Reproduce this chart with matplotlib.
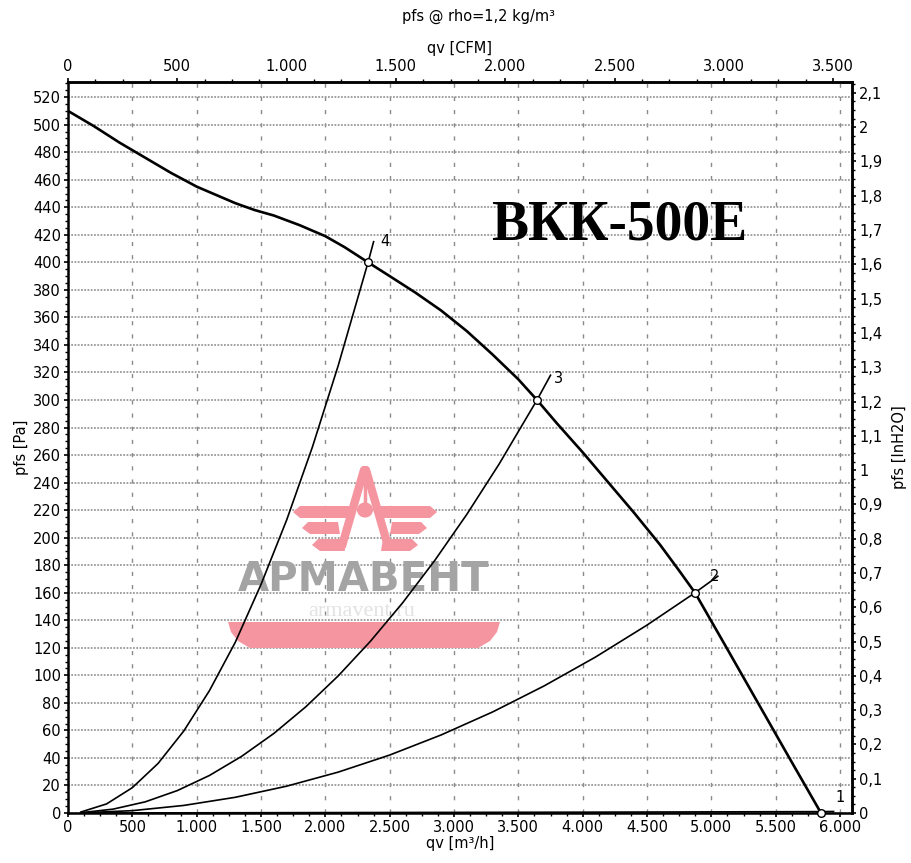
import numpy as np
import matplotlib
matplotlib.use("Agg")
import matplotlib.pyplot as plt
from matplotlib.ticker import MultipleLocator, FuncFormatter
from matplotlib.patches import Polygon, Circle

plt.rcParams['font.family'] = ['DejaVu Sans']

# ---------------- data ----------------
fan_q = [0, 200, 400, 600, 800, 1000, 1150, 1300, 1450, 1600, 1800, 2000, 2150, 2332,
         2500, 2700, 2900, 3100, 3300, 3500, 3645, 3800, 4000, 4200, 4400, 4600, 4750,
         4873, 5100, 5350, 5600, 5852]
fan_p = [510, 499, 487, 476, 465, 455, 449, 443, 438, 434, 427, 419, 411, 400,
         390, 378, 365, 350, 333, 315, 300, 283, 262, 240, 218, 195, 176,
         160, 123, 82, 41, 0]

sys4_q = [100, 300, 500, 700, 900, 1100, 1300, 1500, 1700, 1900, 2100, 2332, 2375]
sys4_p = [0.7, 6.6, 18.4, 36, 59.6, 89, 124, 166, 213, 266, 325, 400, 415]
sys3_q = [100, 350, 600, 850, 1100, 1350, 1600, 1850, 2100, 2350, 2600, 2850, 3100,
          3350, 3645, 3750]
sys3_p = [0.2, 2.8, 8.1, 16.3, 27.3, 41.2, 57.8, 77.3, 99.6, 124.7, 152.6, 183.4, 217,
          253.4, 300, 318]
sys2_q = [100, 500, 900, 1300, 1700, 2100, 2500, 2900, 3300, 3700, 4100, 4500, 4873, 5050]
sys2_p = [0.1, 1.7, 5.5, 11.4, 19.5, 29.7, 42.1, 56.7, 73.4, 92.3, 113.3, 136.5, 160, 172]
sys1_q = [100, 2000, 4000, 5852, 5950]
sys1_p = [0, 0.3, 0.6, 1.0, 1.1]

op_q = [5852, 4873, 3645, 2332]
op_p = [0, 160, 300, 400]
op_labels = ["1", "2", "3", "4"]

x_ticks = list(range(0, 6001, 500))
y_ticks = list(range(0, 521, 20))
cfm_ticks = list(range(0, 3501, 500))
inh2o_ticks = [round(0.1 * i, 1) for i in range(0, 22)]

M3H_PER_CFM = 1.699
PA_PER_INH2O = 249.09

# ---------------- figure ----------------
W, H = 912, 863
fig = plt.figure(figsize=(W / 100, H / 100), dpi=100)
L, R, T, B = 68, 852, 82, 813
ax = fig.add_axes([L / W, 1 - B / H, (R - L) / W, (B - T) / H])
ax.set_xlim(0, 6093)
ax.set_ylim(0, 531)

def thou(v, pos=None):
    return f"{int(round(v)):,}".replace(",", ".")

def comma(v, pos=None):
    v = round(v, 2)
    s = f"{v:.1f}"
    if s.endswith(".0"):
        s = s[:-2]
    return s.replace(".", ",")

ax.set_xticks(x_ticks)
ax.set_yticks(y_ticks)
ax.xaxis.set_major_formatter(FuncFormatter(thou))
ax.xaxis.set_minor_locator(MultipleLocator(125))
ax.yaxis.set_minor_locator(MultipleLocator(5))

ax.set_axisbelow(True)
ax.xaxis.grid(True, which='major', color='#8a8a8a', linestyle=(0, (3, 6.5)), linewidth=1.0)
ax.yaxis.grid(True, which='major', color='#9a9a9a', linestyle=(0, (1, 0.8)), linewidth=1.3)

fs = 10.5
ax.tick_params(axis='both', which='major', direction='out', length=3, width=1.2,
               labelsize=fs, pad=2)
ax.tick_params(axis='both', which='minor', direction='out', length=2, width=1.0)
for s in ax.spines.values():
    s.set_linewidth(1.8)

ax.set_xlabel("qv [m³/h]", fontsize=fs, labelpad=1)
ax.set_ylabel("pfs [Pa]", fontsize=fs, labelpad=3)

secx = ax.secondary_xaxis('top', functions=(lambda q: q / M3H_PER_CFM, lambda c: c * M3H_PER_CFM))
secx.set_xticks(cfm_ticks)
secx.xaxis.set_major_formatter(FuncFormatter(thou))
secx.xaxis.set_minor_locator(MultipleLocator(125))
secx.tick_params(which='major', direction='out', length=3, width=1.2, labelsize=fs, pad=3)
secx.tick_params(which='minor', direction='out', length=2, width=1.0)
secx.set_xlabel("qv [CFM]", fontsize=fs, labelpad=4)

secy = ax.secondary_yaxis('right', functions=(lambda p: p / PA_PER_INH2O, lambda h: h * PA_PER_INH2O))
secy.set_yticks(inh2o_ticks)
secy.yaxis.set_major_formatter(FuncFormatter(comma))
secy.yaxis.set_minor_locator(MultipleLocator(0.025))
secy.tick_params(which='major', direction='out', length=3, width=1.2, labelsize=fs, pad=2)
secy.tick_params(which='minor', direction='out', length=2, width=1.0)
secy.set_ylabel("pfs [InH2O]", fontsize=fs, labelpad=7)
for sa in (secx, secy):
    for s in sa.spines.values():
        s.set_linewidth(1.8)

fig.text(479 / W, 1 - 16 / H, "pfs @ rho=1,2 kg/m³", ha='center', va='center', fontsize=fs)

# ---------------- watermark (figure pixel coords) ----------------
def P(x, y):
    return (x / W, 1 - y / H)

pink = '#f4959f'
tf = fig.transFigure
band = Polygon([P(228, 622), P(500, 622), P(497, 632), P(490, 641), P(478, 648),
                P(250, 648), P(238, 641), P(231, 632)], closed=True,
               facecolor=pink, edgecolor='none', transform=tf, zorder=1, clip_on=False)
ax.add_patch(band)
wings = [
    [(293, 512), (300, 506), (350, 506), (350, 518), (300, 518)],
    [(437, 512), (430, 506), (380, 506), (380, 518), (430, 518)],
    [(302, 528), (308, 522), (338, 522), (340, 534), (310, 534)],
    [(427, 528), (421, 522), (392, 522), (390, 534), (419, 534)],
    [(312, 545), (318, 539), (343, 539), (345, 551), (320, 551)],
    [(418, 545), (412, 539), (383, 539), (381, 551), (410, 551)],
]
for w in wings:
    ax.add_patch(Polygon([P(*p) for p in w], closed=True, facecolor=pink,
                         edgecolor='none', transform=tf, zorder=1, clip_on=False))
for (x0, y0, x1, y1) in [(364, 470, 342, 546), (366, 470, 388, 546)]:
    ax.add_line(plt.Line2D([x0 / W, x1 / W], [1 - y0 / H, 1 - y1 / H], color=pink,
                           lw=6, solid_capstyle='round', transform=tf, zorder=1, clip_on=False))
ax.add_line(plt.Line2D([365 / W, 365 / W], [1 - 476 / H, 1 - 505 / H], color=pink,
                       lw=2.5, transform=tf, zorder=1.1, clip_on=False))
ax.add_patch(Circle(P(365, 510), 8 / W, facecolor=pink, edgecolor='none',
                    transform=tf, zorder=1.1, clip_on=False))
ax.text(364 / W, 1 - 580 / H, "АРМАВЕНТ", transform=tf, ha='center', va='center',
        fontsize=29, fontweight='bold', color='#a4a4a4', zorder=1)
ax.text(362 / W, 1 - 611 / H, "armavent.ru", transform=tf, ha='center', va='center',
        fontsize=16, family='Liberation Serif', color='#e2e2e2', zorder=0.9)

# ---------------- curves ----------------
ax.plot(sys1_q, sys1_p, color='black', lw=1.2, zorder=3, clip_on=False)
ax.plot(sys2_q, sys2_p, color='black', lw=1.2, zorder=3)
ax.plot(sys3_q, sys3_p, color='black', lw=1.2, zorder=3)
ax.plot(sys4_q, sys4_p, color='black', lw=1.2, zorder=3)
ax.plot(fan_q, fan_p, color='black', lw=1.9, zorder=4)
ax.plot(op_q, op_p, linestyle='none', marker='o', markersize=5.5,
        markerfacecolor='white', markeredgecolor='black', markeredgewidth=1.0,
        zorder=5, clip_on=False)

ends = [(op_q[0], op_p[0], 14, 11), (sys2_q[-1], sys2_p[-1], -2, 0),
        (sys3_q[-1], sys3_p[-1], 6, -2), (sys4_q[-1], sys4_p[-1], 8, 0)]
for lab, (qx, py, dx, dy) in zip(op_labels, ends):
    ax.annotate(lab, (qx, py), xytext=(dx, dy), textcoords='offset points',
                ha='center', va='center', fontsize=fs, zorder=6, annotation_clip=False)

ax.text(619 / W, 1 - 226 / H, "ВКК-500Е", transform=tf, ha='center', va='center',
        fontsize=40, fontweight='bold', family='Liberation Serif', color='black', zorder=6)

fig.savefig("out.png", dpi=100)
